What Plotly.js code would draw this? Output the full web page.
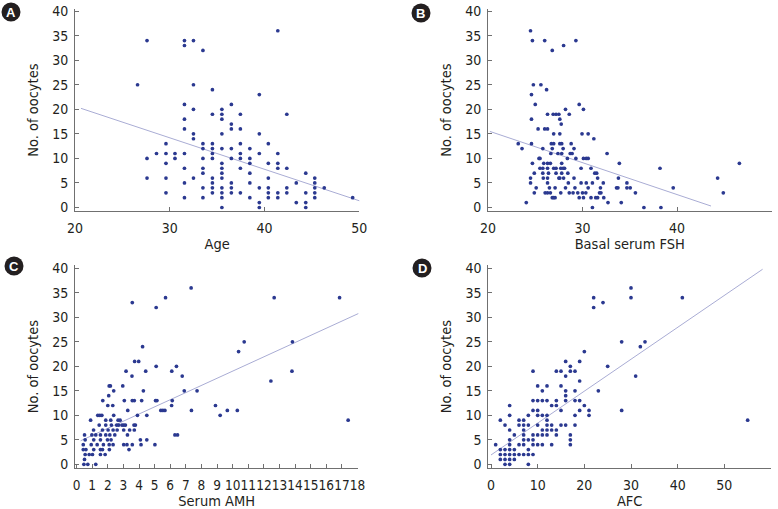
<!DOCTYPE html>
<html>
<head>
<meta charset="utf-8">
<script src="https://cdn.plot.ly/plotly-3.0.1.min.js"></script>
<style>html,body{margin:0;padding:0;background:#fff;}#chart{width:778px;height:509px;}</style>
</head>
<body>
<div id="chart"></div>
<script>
// ---- Panel A: Age vs No. of oocytes ----
const ageX = [26.6,
  27.6,27.6,27.6,
  28.6,
  29.6,29.6,29.6,29.6,29.6,
  30.55,30.55,
  31.55,31.55,31.55,31.55,31.55,31.55,31.55,31.55,31.55,
  32.5,32.5,32.5,32.5,32.5,32.5,
  33.5,33.5,33.5,33.5,33.5,33.5,33.5,33.5,
  34.5,34.5,34.5,34.5,34.5,34.5,34.5,34.5,34.5,34.5,
  35.5,35.5,35.5,35.5,35.5,35.5,35.5,35.5,35.5,35.5,35.5,35.5,35.5,
  36.5,36.5,36.5,36.5,36.5,36.5,36.5,36.5,
  37.45,37.45,37.45,37.45,37.45,37.45,37.45,
  38.45,38.45,38.45,38.45,38.45,38.45,
  39.45,39.45,39.45,39.45,39.45,39.45,
  40.4,40.4,40.4,40.4,40.4,40.4,
  41.4,41.4,41.4,41.4,41.4,41.4,
  42.35,42.35,42.35,42.35,
  43.35,43.35,
  44.35,44.35,44.35,44.35,
  45.3,45.3,45.3,45.3,45.3,
  46.3,
  49.3];
const ageY = [25,
  34,10,6,
  11,
  13,11,9,6,3,
  11,10,
  34,33,21,18,16,11,8,5,2,
  34,25,20,15,14,6,
  32,13,12,10,8,7,4,2,
  24,19,13,12,11,10,6,5,4,3,
  20,19,18,15,12,9,8,7,6,4,3,2,0,
  21,17,16,12,10,5,4,3,
  19,16,13,11,10,8,3,
  12,10,9,7,5,2,
  23,15,11,4,1,0,
  13,9,6,4,3,2,
  36,11,9,8,3,2,
  19,8,4,3,
  5,1,
  7,3,1,0,
  6,5,4,3,2,
  4,
  2];
const ageFitX = [20.63, 50.27];
const ageFitY = [20.2, 1.2];

// ---- Panel B: Basal serum FSH vs No. of oocytes ----
const fshX = [24.5,24.7,26.0,29.3,28.0,26.8,24.8,25.6,26.2,24.6,25.0,29.65,28.2,30.1,24.6,26.3,26.9,27.2,27.5,28.6,
  27.6,27.75,25.3,26.0,26.3,26.95,27.6,29.95,30.6,31.2,23.2,24.6,26.7,26.95,27.6,27.8,28.8,23.6,25.8,26.8,
  27.95,29.1,26.65,27.4,27.8,28.7,28.9,32.6,25.4,25.5,28.4,29.3,30.1,30.4,30.6,24.7,25.9,26.3,26.6,27.8,
  33.9,25.5,25.8,26.3,26.95,27.2,27.7,27.95,28.1,29.85,30.9,38.2,24.9,25.8,26.4,27.2,27.8,28.45,31.3,31.5,
  24.5,25.85,26.3,27.5,27.6,28.0,29.1,31.6,33.8,44.3,24.5,26.3,28.5,29.85,30.4,31.05,32.2,34.7,25.1,26.5,
  27.1,28.2,29.2,30.6,31.9,33.6,33.75,34.7,35.05,39.6,24.9,26.05,26.3,26.6,27.7,28.6,29.0,29.5,30.0,30.35,
  31.8,31.95,35.6,44.9,26.8,26.95,27.1,29.65,30.1,30.9,31.4,31.6,32.25,24.05,32.7,34.1,31.05,36.5,38.3,46.6];
const fshY = [36,34,34,34,33,32,25,25,24,23,21,21,20,20,18,19,19,19,19,19,
  18,17,16,16,16,15,15,15,15,14,13,13,13,13,13,13,13,12,12,12,
  12,12,11,11,11,11,11,11,10,10,10,10,10,10,10,9,9,9,9,9,
  9,8,8,8,8,8,8,8,8,8,8,8,7,7,7,7,7,7,7,7,
  6,6,6,6,6,6,6,6,6,6,5,5,5,5,5,5,5,5,4,4,
  4,4,4,4,4,4,4,4,4,4,3,3,3,3,3,3,3,3,3,3,
  3,3,3,3,2,2,2,2,2,2,2,2,2,1,1,1,0,0,0,9];
const fshFitX = [20.2, 43.6];
const fshFitY = [15.5, 0.3];

// ---- Panel C: Serum AMH vs No. of oocytes ----
const amhX = [4.23,3.72,3.98,3.17,4.43,5.1,6.1,6.4,3.55,6.77,2.09,2.17,2.38,2.96,4.28,6.9,7.72,2.06,1.68,2.0,
  2.32,3.06,3.57,3.7,4.17,5.06,5.15,6.13,6.09,3.28,5.4,5.53,5.66,7.36,8.9,9.2,9.66,10.3,1.36,1.49,
  1.62,2.38,3.9,4.5,0.9,1.87,2.19,2.66,2.79,1.45,1.87,2.23,2.57,2.7,2.91,3.02,3.13,3.68,3.77,1.09,
  1.66,2.02,2.34,2.6,3.02,3.4,3.7,0.51,0.98,1.23,1.53,1.87,2.13,2.45,3.26,6.3,6.47,0.55,1.1,1.53,
  1.98,2.21,4.09,4.5,0.43,0.94,1.32,1.72,2.09,2.34,3.02,3.23,3.57,4.13,5.02,0.43,0.6,1.1,1.53,1.66,
  2.1,3.36,0.55,0.81,1.02,1.53,1.83,0.51,0.47,0.72,1.23,
  3.57,5.7,5.1,7.34,12.66,16.85,10.38,10.74,13.83,13.8,12.45,17.4];
const amhY = [24,21,21,19,19,20,19,20,18,18,16,16,15,16,15,15,15,14,13,12,
  12,13,13,13,13,13,13,13,12,11,11,11,11,11,12,10,11,11,10,10,
  10,10,10,10,9,9,9,9,9,8,8,8,8,8,8,8,8,8,8,7,
  7,7,7,7,7,7,7,6,6,6,6,6,6,6,6,6,6,5,5,5,
  5,5,5,5,4,4,4,4,4,4,4,4,4,4,4,3,3,3,3,3,
  3,3,2,2,2,2,2,1,0,0,0,
  33,34,32,36,34,34,23,25,25,19,17,9];
const amhFitX = [0.26, 18.15];
const amhFitY = [4.8, 30.9];

// ---- Panel D: AFC vs No. of oocytes ----
const afcX = [1,2,2,2,2,3,3,3,3,3,4,4,4,4,4,4,4,4,4,5,5,5,5,6,6,6,6,
  7,7,7,7,7,7,7,8,8,8,8,8,8,9,9,9,9,9,9,9,10,10,10,10,10,10,10,
  11,11,11,11,11,11,12,12,12,12,12,12,12,13,13,13,13,14,14,14,14,14,
  15,15,15,15,16,16,16,16,16,16,17,17,17,17,17,18,18,18,18,18,
  19,19,19,19,20,20,21,21,22,22,23,24,25,28,28,30,30,31,32,33,41,55];
const afcY = [4,9,3,2,1,8,3,2,1,0,12,10,7,5,4,3,2,1,0,6,3,2,1,9,8,4,2,
  9,8,7,6,5,4,2,10,8,5,3,2,0,19,13,11,6,5,4,2,16,13,11,10,8,6,4,
  15,13,10,7,6,4,16,13,10,9,8,7,6,12,8,7,4,19,13,12,7,6,
  19,16,11,8,21,18,15,14,13,8,20,19,6,5,4,19,15,13,10,8,
  21,17,13,11,23,12,11,10,34,32,15,33,20,25,11,36,34,18,24,25,34,9];
const afcFitX = [0, 58.2];
const afcFitY = [1.9, 39.8];

const panelLetters = ['A', 'B', 'C', 'D'];
const xTitles = ['Age', 'Basal serum FSH', 'Serum AMH', 'AFC'];
const yTitle = 'No. of oocytes';

// ---- styling ----
const W = 778, H = 509;
const FONT = 'Liberation Sans Narrow, DejaVu Sans Condensed, Arial Narrow, sans-serif';
const TXT = '#231f20';
const AX = '#707070';
const DOT = '#2b3990';
const FIT = '#a9acd4';

function pts(x, y, n) {
  return {type: 'scatter', mode: 'markers', x: x, y: y,
    xaxis: 'x' + (n > 1 ? n : ''), yaxis: 'y' + (n > 1 ? n : ''),
    marker: {color: DOT, size: 3.7, line: {width: 0}}, hoverinfo: 'skip', showlegend: false};
}
function fit(x, y, n) {
  return {type: 'scatter', mode: 'lines', x: x, y: y,
    xaxis: 'x' + (n > 1 ? n : ''), yaxis: 'y' + (n > 1 ? n : ''),
    line: {color: FIT, width: 1}, hoverinfo: 'skip', showlegend: false};
}
const data = [
  fit(ageFitX, ageFitY, 1), pts(ageX, ageY, 1),
  fit(fshFitX, fshFitY, 2), pts(fshX, fshY, 2),
  fit(amhFitX, amhFitY, 3), pts(amhX, amhY, 3),
  fit(afcFitX, afcFitY, 4), pts(afcX, afcY, 4)
];

function xa(pxL, pxR, range, dtick, title, anchor, tsize) {
  return {domain: [pxL / W, pxR / W], range: range, dtick: dtick, tick0: 0, tickangle: 0,
    showline: true, linecolor: AX, linewidth: 1, ticks: 'inside', ticklen: 4, tickcolor: AX, tickwidth: 1,
    showgrid: false, zeroline: false, anchor: anchor, fixedrange: true,
    tickfont: {family: FONT, size: tsize, color: TXT}, ticklabelstandoff: 4,
    title: {text: title, font: {family: FONT, size: 14.5, color: TXT}, standoff: 4}};
}
function ya(pxB, pxT, range, title, anchor) {
  return {domain: [1 - pxB / H, 1 - pxT / H], range: range, dtick: 5, tick0: 0,
    showline: true, linecolor: AX, linewidth: 1, ticks: 'inside', ticklen: 4, tickcolor: AX, tickwidth: 1,
    showgrid: false, zeroline: false, anchor: anchor, fixedrange: true,
    tickfont: {family: FONT, size: 14, color: TXT}, ticklabelstandoff: 3,
    title: {text: title, font: {family: FONT, size: 14.5, color: TXT}, standoff: 10}};
}

const badges = [[11, 12], [421, 13], [14, 266], [422, 268]];
const R = 9.5;
const shapes = badges.map(b => ({type: 'circle', xref: 'paper', yref: 'paper',
  x0: (b[0] - R) / W, x1: (b[0] + R) / W, y0: 1 - (b[1] + R) / H, y1: 1 - (b[1] - R) / H,
  fillcolor: '#231f20', line: {width: 0}}));
const annotations = badges.map((b, i) => ({xref: 'paper', yref: 'paper', x: b[0] / W, y: 1 - b[1] / H,
  text: '<b>' + panelLetters[i] + '</b>', showarrow: false, xanchor: 'center', yanchor: 'middle',
  font: {family: 'Liberation Sans, Arial, sans-serif', size: 13, color: '#ffffff'}}));

const layout = {
  width: W, height: H, margin: {l: 0, r: 0, t: 0, b: 0, pad: 0},
  paper_bgcolor: '#ffffff', plot_bgcolor: '#ffffff', showlegend: false,
  xaxis: xa(75, 359.3, [20, 50], 10, xTitles[0], 'y', 14),
  yaxis: ya(211, 9.3, [-0.71, 40.37], yTitle, 'x'),
  xaxis2: xa(488, 771.5, [20, 50], 10, xTitles[1], 'y2', 14),
  yaxis2: ya(211, 9.3, [-0.71, 40.37], yTitle, 'x2'),
  xaxis3: xa(75, 358.3, [-0.1, 18.05], 1, xTitles[2], 'y3', 13.5),
  yaxis3: ya(468.3, 265, [-0.82, 40.67], yTitle, 'x3'),
  xaxis4: xa(488.3, 771, [-0.58, 60], 10, xTitles[3], 'y4', 14),
  yaxis4: ya(468.3, 265, [-0.82, 40.67], yTitle, 'x4'),
  shapes: shapes, annotations: annotations
};

Plotly.newPlot('chart', data, layout, {staticPlot: true, displayModeBar: false});
</script>
</body>
</html>
